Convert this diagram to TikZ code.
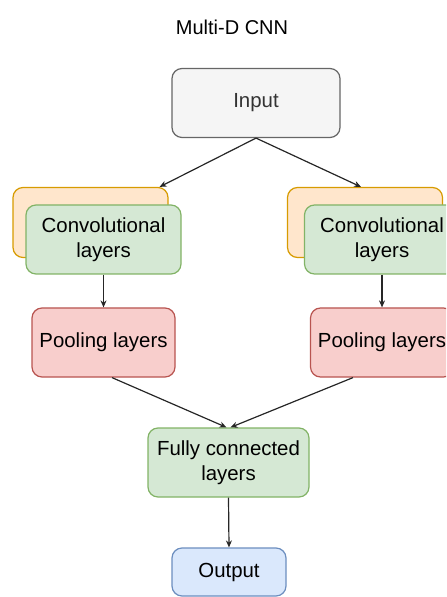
\documentclass[tikz,border=0pt]{standalone}
\usepackage{fontspec}
\setmainfont{Liberation Sans}
\usetikzlibrary{shapes, arrows.meta, positioning}
\definecolor{grisfondo}{HTML}{F5F5F5}
\definecolor{grisborde}{HTML}{666666}
\definecolor{grisletra}{HTML}{333333}
\definecolor{naranjafondo}{HTML}{FFE6CC}
\definecolor{naranjaborde}{HTML}{D79B00}
\definecolor{verdefondo}{HTML}{D5E8D4}
\definecolor{verdeborde}{HTML}{82B366}
\definecolor{rojofondo}{HTML}{F8CECC}
\definecolor{rojoborde}{HTML}{B85450}
\definecolor{azulfondo}{HTML}{DAE8FC}
\definecolor{azulborde}{HTML}{6C8EBF}
\tikzstyle{caja} = [rectangle, rounded corners=5pt, line width=0.6pt, inner sep=0pt, minimum height=34.5pt, align=center, font=\fontsize{10.2}{12.5}\selectfont]
\tikzstyle{entrada} = [caja, draw=grisborde, fill=grisfondo, text=grisletra, minimum width=84pt]
\tikzstyle{fondo} = [caja, draw=naranjaborde, fill=naranjafondo, minimum width=77.5pt, minimum height=35pt]
\tikzstyle{convol} = [caja, draw=verdeborde, fill=verdefondo, minimum width=77.5pt]
\tikzstyle{pooling} = [caja, draw=rojoborde, fill=rojofondo, minimum width=71.5pt]
\tikzstyle{salida} = [caja, draw=azulborde, fill=azulfondo, minimum width=57pt, minimum height=24pt]
\tikzstyle{flecha} = [draw=black!85, line width=0.6pt, -{Stealth[length=3.5pt, width=3pt]}]

\begin{document}
\begin{tikzpicture}[x=0.5pt, y=-0.5pt]
	\clip (0,0) rectangle (446,597);
	\useasboundingbox (0,0) rectangle (446,597);
	\node[font=\fontsize{10}{12}\selectfont] (titulo) at (232,27) {Multi-D CNN};
	\node[entrada] (in) at (256,103) {Input};
	% rama izquierda
	\node[fondo] (orL) at (90.5,222.5) {};
	\node[convol] (cvL) at (103.5,239.5) {Convolutional\\layers};
	\node[pooling] (poL) at (103.5,342.5) {Pooling layers};
	% rama derecha
	\node[fondo] (orR) at (365,222.5) {};
	\node[convol] (cvR) at (382,239.5) {Convolutional\\layers};
	\node[pooling] (poR) at (382,342.5) {Pooling layers};
	% final
	\node[convol, minimum width=80.5pt] (fc) at (228.5,462.5) {Fully connected\\layers};
	\node[salida] (out) at (229,572) {Output};
	\draw[flecha] (in.south) -- ([xshift=-4.5pt]orL.north east);
	\draw[flecha] (in.south) -- ([xshift=-2pt]orR.north);
	\draw[flecha] (cvL.south) -- (poL.north);
	\draw[flecha] (cvR.south) -- (poR.north);
	\draw[flecha] ([xshift=4.25pt]poL.south) -- ([xshift=-1pt]fc.north);
	\draw[flecha] ([xshift=-14.5pt]poR.south) -- ([xshift=1pt]fc.north);
	\draw[flecha] (fc.south) -- (out.north);
\end{tikzpicture}
\end{document}
